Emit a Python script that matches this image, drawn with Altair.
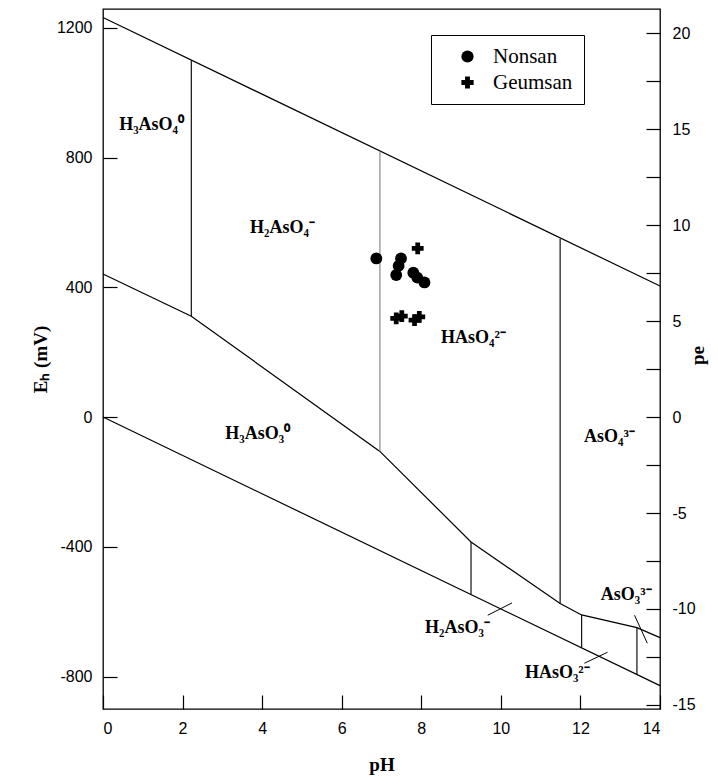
import altair as alt
import pandas as pd

# ---- stability-field boundaries (pH, Eh in mV) ----
ph_upper = [0, 14]
eh_upper = [1232, 404]
ph_lower = [0, 14]
eh_lower = [0, -828]
ph_redox = [0, 2.22, 6.96, 9.25, 11.49, 12.03, 13.42, 14]
eh_redox = [441, 311, -106, -385, -575, -610, -649, -680]

vert_ph = [2.22, 6.96, 11.49, 9.25, 12.03, 13.42]
vert_eh_lo = [311, -106, -575, -547, -712, -794]
vert_eh_hi = [1099, 818, 550, -385, -610, -649]
vert_grey = [False, True, False, False, False, False]

# ---- samples ----
nonsan_ph = [6.87, 7.49, 7.43, 7.37, 7.80, 7.90, 8.08]
nonsan_eh = [489, 489, 466, 438, 445, 430, 415]
geumsan_ph = [7.91, 7.37, 7.51, 7.83, 7.95]
geumsan_eh = [520, 304, 311, 299, 309]

# ---- species labels ----
species = ["H₃AsO₄⁰", "H₂AsO₄⁻", "HAsO₄²⁻", "AsO₄³⁻",
           "H₃AsO₃⁰", "H₂AsO₃⁻", "HAsO₃²⁻", "AsO₃³⁻"]
species_ph = [1.22, 4.51, 9.31, 12.73, 3.89, 8.91, 11.42, 13.15]
species_eh = [901, 583, 244, -62, -52, -651, -790, -549]

leader_ph1 = [9.67, 12.10, 13.36]
leader_eh1 = [-611, -759, -611]
leader_ph2 = [10.28, 12.68, 13.68]
leader_eh2 = [-573, -725, -697]

x_ticks = [0, 2, 4, 6, 8, 10, 12, 14]
eh_ticks = [-800, -400, 0, 400, 800, 1200]
pe_ticks = [-15, -12.5, -10, -7.5, -5, -2.5, 0, 2.5, 5, 7.5, 10, 12.5, 15, 17.5, 20]

EH_MIN, EH_MAX = -900, 1258
PE_FACTOR = 59.16

# ---- tables ----
lines_rows = []
for i, (p, e) in enumerate(zip(ph_upper, eh_upper)):
    lines_rows.append({"id": "upper", "o": i, "pH": p, "Eh": e})
for i, (p, e) in enumerate(zip(ph_lower, eh_lower)):
    lines_rows.append({"id": "lower", "o": i, "pH": p, "Eh": e})
for i, (p, e) in enumerate(zip(ph_redox, eh_redox)):
    lines_rows.append({"id": "redox", "o": i, "pH": p, "Eh": e})
lines_df = pd.DataFrame(lines_rows)

vert_df = pd.DataFrame({"pH": vert_ph, "lo": vert_eh_lo, "hi": vert_eh_hi, "grey": vert_grey})
sites = ["Nonsan"] * len(nonsan_ph) + ["Geumsan"] * len(geumsan_ph)
pts_df = pd.DataFrame({
    "pH": nonsan_ph + geumsan_ph,
    "Eh": nonsan_eh + geumsan_eh,
    "site": sites,
})
lab_df = pd.DataFrame({"pH": species_ph, "Eh": species_eh, "t": species})
lead_df = pd.DataFrame({"p1": leader_ph1, "e1": leader_eh1, "p2": leader_ph2, "e2": leader_eh2})
pe_df = pd.DataFrame({"pH": [0, 14], "pe": [EH_MIN / PE_FACTOR, EH_MAX / PE_FACTOR]})

TICK = 14
LBL = 16
xscale = alt.Scale(domain=[0, 14], nice=False, zero=False)
xaxis = alt.Axis(values=x_ticks, offset=-TICK, tickSize=TICK, domain=False, grid=False,
                 labelPadding=11, labelFont="Liberation Sans", labelFontSize=LBL,
                 labelColor="black", tickColor="black", tickWidth=1.2,
                 labelExpr="toString(datum.value)",
                 title="pH", titleFont="Liberation Serif", titleFontSize=19,
                 titleFontWeight="bold", titleColor="black", titlePadding=19)
yscale = alt.Scale(domain=[EH_MIN, EH_MAX], nice=False, zero=False)
yaxis = alt.Axis(values=eh_ticks, offset=-TICK, tickSize=TICK, domain=False, grid=False,
                 labelPadding=11, labelFont="Liberation Sans", labelFontSize=LBL,
                 labelColor="black", tickColor="black", tickWidth=1.2,
                 labelExpr="toString(datum.value)",
                 title="Eₕ (mV)", titleFont="Liberation Serif", titleFontSize=19,
                 titleFontWeight="bold", titleColor="black", titlePadding=6)


def X(f):
    return alt.X(f + ":Q", scale=xscale, axis=xaxis)


def Y(f):
    return alt.Y(f + ":Q", scale=yscale, axis=yaxis)


lines = alt.Chart(lines_df).mark_line(color="black", strokeWidth=1.2).encode(
    x=X("pH"), y=Y("Eh"), detail="id:N", order="o:Q")

verts = alt.Chart(vert_df).mark_rule(strokeWidth=1.2).encode(
    x=X("pH"), y=Y("lo"), y2="hi:Q",
    stroke=alt.Stroke("grey:N", scale=alt.Scale(domain=[False, True], range=["#111111", "#8a8a8a"]), legend=None))

leads = alt.Chart(lead_df).mark_rule(color="black", strokeWidth=1).encode(
    x=X("p1"), y=Y("e1"), x2="p2:Q", y2="e2:Q")

labels = alt.Chart(lab_df).mark_text(font="Liberation Serif", fontWeight="bold", fontSize=18,
                                     color="black").encode(
    x=X("pH"), y=Y("Eh"), text="t:N")

points = alt.Chart(pts_df).mark_point(filled=True, color="black", opacity=1, size=140).encode(
    x=X("pH"), y=Y("Eh"),
    shape=alt.Shape("site:N", scale=alt.Scale(domain=["Nonsan", "Geumsan"], range=["circle", "cross"]),
                    legend=alt.Legend(title=None, orient="none", legendX=328, legendY=26,
                                      strokeColor="black", fillColor="white", padding=11,
                                      symbolOffset=15, labelOffset=15, rowPadding=4,
                                      labelFont="Liberation Serif", labelFontSize=21,
                                      labelColor="black", symbolFillColor="black",
                                      symbolStrokeColor="black", symbolSize=150)),
)

pe_layer = alt.Chart(pe_df).mark_point(opacity=0).encode(
    x=X("pH"),
    y=alt.Y("pe:Q", scale=alt.Scale(domain=[EH_MIN / PE_FACTOR, EH_MAX / PE_FACTOR], nice=False, zero=False),
            axis=alt.Axis(orient="right", values=pe_ticks, offset=-TICK, tickSize=TICK, domain=False,
                          grid=False, labelPadding=12, labelFont="Liberation Sans", labelFontSize=LBL,
                          labelColor="black", tickColor="black", tickWidth=1.2,
                          labelExpr="datum.value % 5 == 0 ? toString(datum.value) : ''",
                          title="pe", titleFont="Liberation Serif", titleFontSize=19,
                          titleFontWeight="bold", titleColor="black", titleAngle=270,
                          titleX=51, titleY=346, titleBaseline="middle", titleAlign="center")))

main = alt.layer(lines, verts, leads, labels, points)

chart = alt.layer(main, pe_layer).resolve_scale(y="independent").properties(
    width=557, height=700,
    autosize=alt.AutoSizeParams(type="none"),
    padding={"left": 95, "top": 1, "right": 50, "bottom": 66},
).configure_view(stroke="black", strokeWidth=1.3)

chart.save("out.html", embed_options={"renderer": "svg", "actions": False})
